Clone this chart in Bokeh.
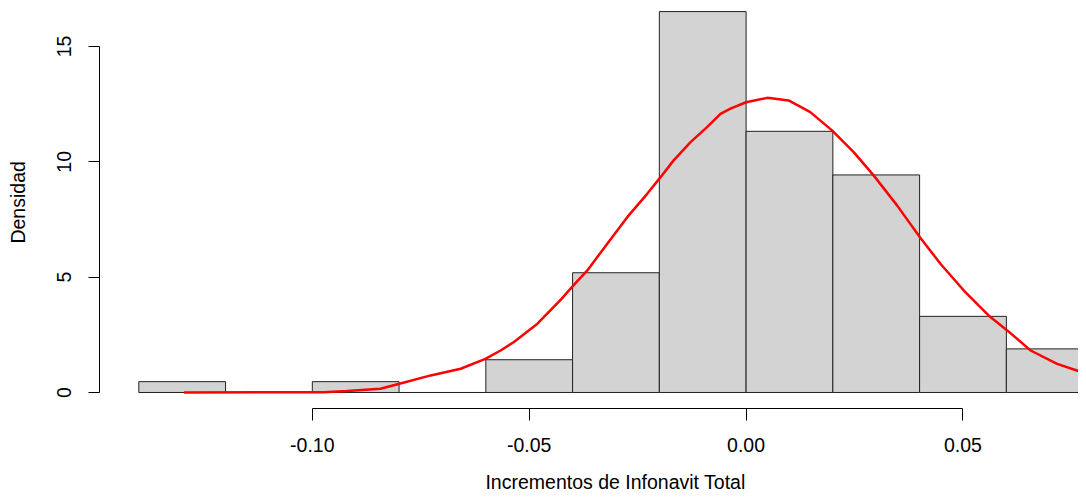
from bokeh.plotting import figure
from bokeh.models import FixedTicker, NumeralTickFormatter, LinearAxis, Range1d
from bokeh.embed import file_html
from bokeh.resources import INLINE

# Histogram bins (density scale)
bin_left = [-0.14, -0.12, -0.10, -0.08, -0.06, -0.04, -0.02, 0.00, 0.02, 0.04, 0.06]
bin_right = [-0.12, -0.10, -0.08, -0.06, -0.04, -0.02, 0.00, 0.02, 0.04, 0.06, 0.08]
density = [0.47, 0.0, 0.47, 0.0, 1.42, 5.19, 16.51, 11.32, 9.43, 3.30, 1.89]

# Fitted normal density curve
curve_x = [-0.1296, -0.0974, -0.0920, -0.0843, -0.0797, -0.0727, -0.0658, -0.0601,
           -0.0566, -0.0536, -0.0481, -0.0426, -0.0398, -0.0366, -0.0320, -0.0274,
           -0.0228, -0.0199, -0.0167, -0.0128, -0.0090, -0.0059, -0.0036, 0.0,
           0.0049, 0.0098, 0.0148, 0.0198, 0.0248, 0.0294, 0.0348, 0.0402, 0.0448,
           0.0502, 0.0559, 0.0602, 0.0656, 0.0717, 0.0785]
curve_y = [0.0, 0.01, 0.06, 0.16, 0.39, 0.74, 1.03, 1.46, 1.82, 2.18, 2.98, 4.05,
           4.64, 5.29, 6.45, 7.60, 8.61, 9.29, 10.06, 10.85, 11.50, 12.08, 12.30,
           12.58, 12.77, 12.66, 12.15, 11.36, 10.42, 9.41, 8.11, 6.70, 5.58, 4.42,
           3.34, 2.69, 1.82, 1.24, 0.81]

x_ticks = [-0.10, -0.05, 0.00, 0.05]
y_ticks = [0, 5, 10, 15]
x_title = "Incrementos de Infonavit Total"
y_title = "Densidad"

FONT = "Liberation Sans"
FS = "19.5px"

p = figure(width=1078, height=496, output_backend="svg", toolbar_location=None,
           x_range=Range1d(-0.14906, 0.07663), y_range=Range1d(-0.694, 16.99),
           min_border_left=99, min_border_right=0, min_border_top=0,
           min_border_bottom=88)
p.outline_line_color = None
p.grid.visible = False
p.background_fill_color = "white"
p.border_fill_color = "white"

p.quad(left=bin_left, right=bin_right, bottom=0, top=density,
       fill_color="#D3D3D3", line_color="#222222", line_width=1)
p.line(curve_x, curve_y, line_color="red", line_width=2.5)

xa = p.xaxis[0]
xa.bounds = (-0.10, 0.05)
xa.ticker = FixedTicker(ticks=x_ticks, minor_ticks=[])
xa.formatter = NumeralTickFormatter(format="0.00")
xa.major_tick_in = 0
xa.major_tick_out = 12
xa.minor_tick_out = 0
xa.minor_tick_in = 0
xa.major_label_standoff = 17
xa.major_label_text_font = FONT
xa.major_label_text_font_size = FS
xa.major_label_text_color = "black"
xa.axis_line_color = "black"
xa.major_tick_line_color = "black"

ya = p.yaxis[0]
ya.bounds = (0, 15)
ya.ticker = FixedTicker(ticks=y_ticks, minor_ticks=[])
ya.major_tick_in = 0
ya.major_tick_out = 11
ya.minor_tick_out = 0
ya.minor_tick_in = 0
ya.major_label_orientation = "vertical"
ya.major_label_standoff = 17
ya.major_label_text_font = FONT
ya.major_label_text_font_size = FS
ya.major_label_text_color = "black"
ya.axis_line_color = "black"
ya.major_tick_line_color = "black"


def title_axis(label, pos, standoff, orientation):
    # an axis without line/ticks whose single tick label is the title,
    # centred on the whole plot region as R does
    ax = LinearAxis(ticker=FixedTicker(ticks=[pos], minor_ticks=[]),
                    major_label_overrides={pos: label},
                    major_label_orientation=orientation,
                    axis_line_color=None, major_tick_line_color=None,
                    minor_tick_line_color=None, major_tick_in=0, major_tick_out=0,
                    minor_tick_in=0, minor_tick_out=0,
                    major_label_standoff=standoff, major_label_text_font=FONT,
                    major_label_text_font_size=FS, major_label_text_color="black")
    return ax


p.add_layout(title_axis(x_title, -0.0301, 16, "horizontal"), "below")
p.add_layout(title_axis(y_title, 8.24, 25, "vertical"), "left")

open("out.html", "w").write(file_html(p, INLINE))
